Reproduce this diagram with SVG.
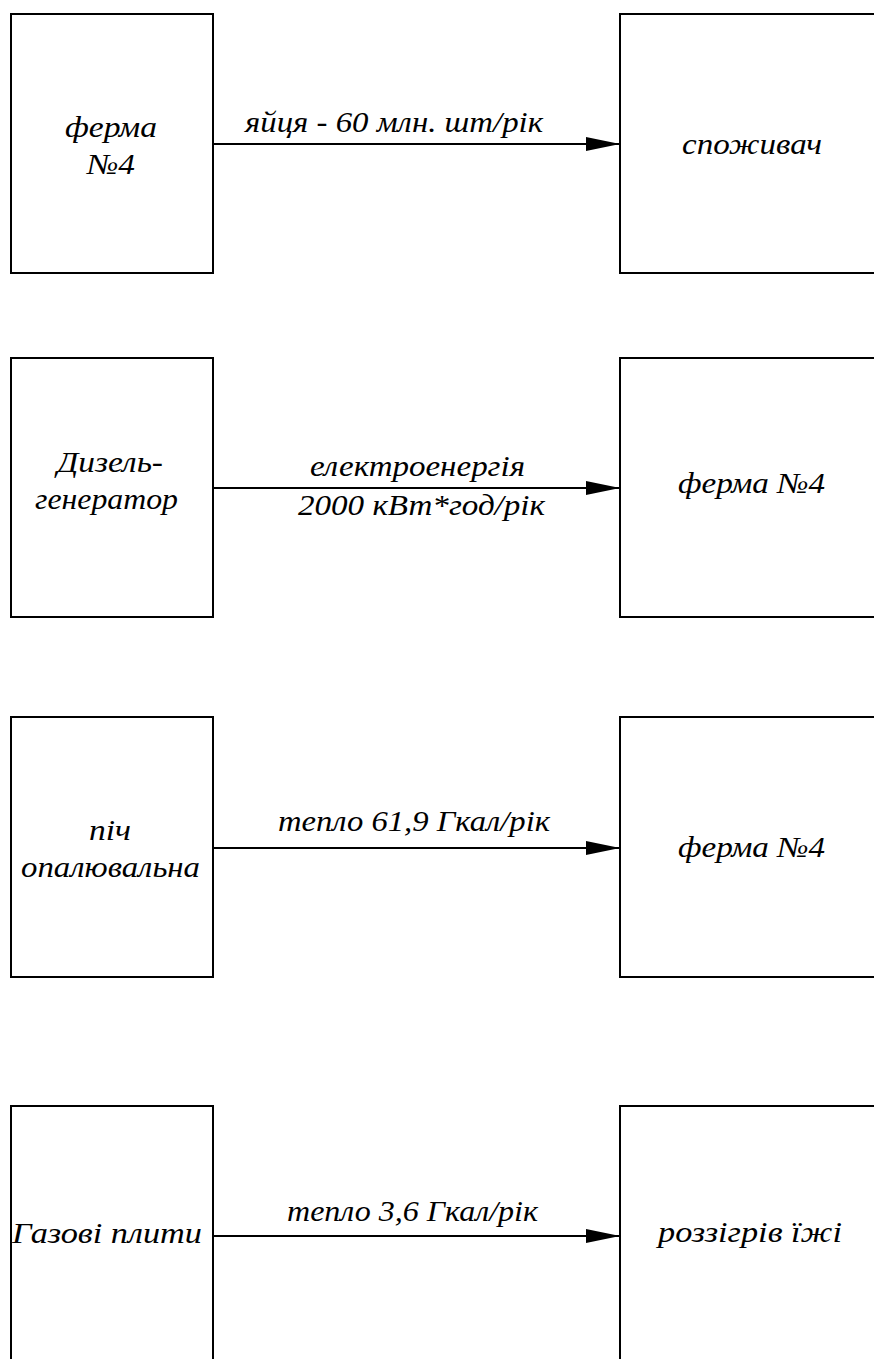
<svg xmlns="http://www.w3.org/2000/svg" width="874" height="1359" viewBox="0 0 874 1359">
  <style>
    .box { fill: #ffffff; stroke: #000000; stroke-width: 2; }
    .flow { stroke: #000000; stroke-width: 2; fill: none; }
    text { font-family: 'Liberation Serif', 'Times New Roman', serif; font-style: italic; font-size: 29px; fill: #000000; text-anchor: middle; }
  </style>
  <defs>
    <marker id="arrow" markerUnits="userSpaceOnUse" markerWidth="36" markerHeight="16" refX="34" refY="7" orient="auto">
      <path d="M0,0 L34,7 L0,14 Z" fill="#000000"/>
    </marker>
  </defs>
  <rect width="874" height="1359" fill="#ffffff"/>

  <!-- row 1 -->
  <g id="ferma4-a">
    <rect class="box" x="11" y="14" width="202" height="259"/>
    <text x="111" y="137" textLength="92" lengthAdjust="spacingAndGlyphs">ферма</text>
    <text x="111" y="174" textLength="48" lengthAdjust="spacingAndGlyphs">№4</text>
  </g>
  <g id="spozhyvach">
    <rect class="box" x="620" y="14" width="260" height="259"/>
    <text x="752" y="154" textLength="140" lengthAdjust="spacingAndGlyphs">споживач</text>
  </g>

  <!-- row 2 -->
  <g id="dyzel">
    <rect class="box" x="11" y="358" width="202" height="259"/>
    <text x="110" y="472" textLength="106" lengthAdjust="spacingAndGlyphs">Дизель-</text>
    <text x="106.5" y="509" textLength="143" lengthAdjust="spacingAndGlyphs">генератор</text>
  </g>
  <g id="ferma4-b">
    <rect class="box" x="620" y="358" width="260" height="259"/>
    <text x="751.5" y="493" textLength="147" lengthAdjust="spacingAndGlyphs">ферма №4</text>
  </g>

  <!-- row 3 -->
  <g id="pich">
    <rect class="box" x="11" y="717" width="202" height="260"/>
    <text x="110" y="840" textLength="42" lengthAdjust="spacingAndGlyphs">піч</text>
    <text x="110.5" y="877" textLength="179" lengthAdjust="spacingAndGlyphs">опалювальна</text>
  </g>
  <g id="ferma4-c">
    <rect class="box" x="620" y="717" width="260" height="260"/>
    <text x="751.5" y="857" textLength="147" lengthAdjust="spacingAndGlyphs">ферма №4</text>
  </g>

  <!-- row 4 -->
  <g id="gazovi">
    <rect class="box" x="11" y="1106" width="202" height="270"/>
    <text x="107" y="1243" textLength="190" lengthAdjust="spacingAndGlyphs">Газові плити</text>
  </g>
  <g id="rozigriv">
    <rect class="box" x="620" y="1106" width="260" height="270"/>
    <text x="750" y="1242" textLength="184" lengthAdjust="spacingAndGlyphs">роззігрів їжі</text>
  </g>

  <!-- connectors -->
  <g id="connectors">
    <line class="flow" x1="213" y1="144" x2="620" y2="144" marker-end="url(#arrow)"/>
    <text x="394" y="132" textLength="298" lengthAdjust="spacingAndGlyphs">яйця - 60 млн. шт/рік</text>

    <line class="flow" x1="213" y1="488" x2="620" y2="488" marker-end="url(#arrow)"/>
    <text x="417.5" y="476" textLength="215" lengthAdjust="spacingAndGlyphs">електроенергія</text>
    <text x="421.5" y="515" textLength="247" lengthAdjust="spacingAndGlyphs">2000 кВт*год/рік</text>

    <line class="flow" x1="213" y1="848" x2="620" y2="848" marker-end="url(#arrow)"/>
    <text x="414" y="831" textLength="272" lengthAdjust="spacingAndGlyphs">тепло 61,9 Гкал/рік</text>

    <line class="flow" x1="213" y1="1236" x2="620" y2="1236" marker-end="url(#arrow)"/>
    <text x="412.5" y="1221" textLength="251" lengthAdjust="spacingAndGlyphs">тепло 3,6 Гкал/рік</text>
  </g>
</svg>
